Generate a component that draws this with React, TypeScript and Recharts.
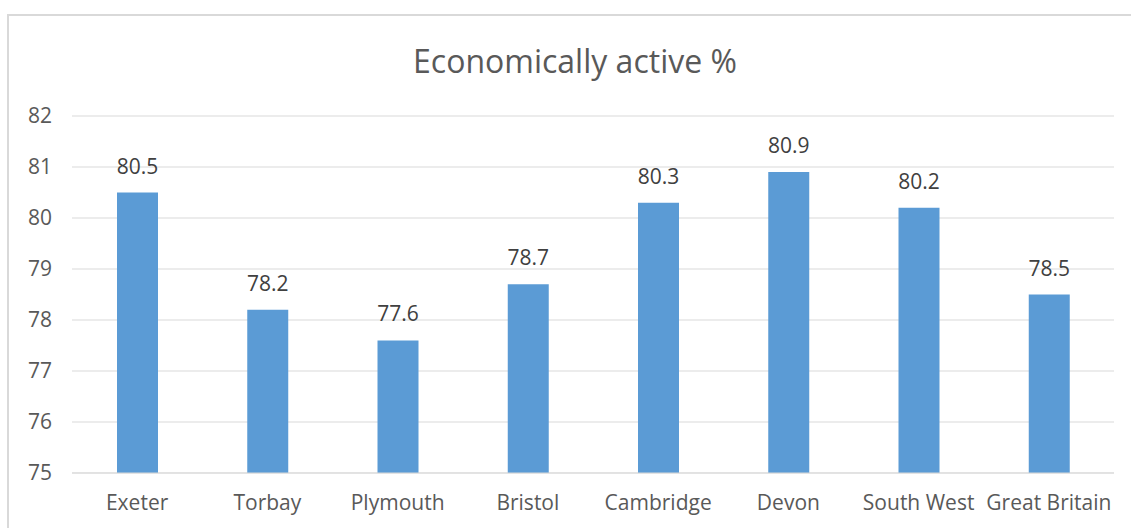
import { BarChart, Bar, XAxis, YAxis, CartesianGrid, LabelList } from 'recharts'

const areas = ['Exeter', 'Torbay', 'Plymouth', 'Bristol', 'Cambridge', 'Devon', 'South West', 'Great Britain']
const activePct = [80.5, 78.2, 77.6, 78.7, 80.3, 80.9, 80.2, 78.5]
const yTicks = [75, 76, 77, 78, 79, 80, 81, 82]

const chartData = areas.map((name, i) => ({ name, value: activePct[i] }))

const font = '"Open Sans", Lato, sans-serif'

export default function App() {
  return (
    <div style={{ position: 'absolute', left: 0, top: 0, width: 1131, height: 528, background: '#fff', fontFamily: font }}>
      <div
        style={{
          position: 'absolute',
          left: 7,
          top: 14,
          width: 1124,
          height: 514,
          borderTop: '2px solid #d9d9d9',
          borderLeft: '2px solid #d9d9d9',
          boxSizing: 'border-box',
        }}
      />
      <div
        style={{
          position: 'absolute',
          left: 0,
          top: 41,
          width: 1150,
          textAlign: 'center',
          fontSize: 32,
          lineHeight: '40px',
          color: '#595959',
        }}
      >
        Economically active %
      </div>
      <div style={{ position: 'absolute', left: 0, top: 0 }}>
        <BarChart
          width={1131}
          height={528}
          data={chartData}
          margin={{ top: 116, right: 17, left: 0, bottom: 25 }}
          barCategoryGap={0}
        >
          <CartesianGrid stroke="#d9d9d9" vertical={false} />
          <XAxis
            dataKey="name"
            tickLine={false}
            axisLine={{ stroke: '#d9d9d9' }}
            tick={{ fontSize: 21, fill: '#595959', fontFamily: font }}
            tickMargin={16}
            interval={0}
          />
          <YAxis
            domain={[75, 82]}
            ticks={yTicks}
            width={72}
            tickLine={false}
            axisLine={false}
            tick={{ fontSize: 21, fill: '#595959', fontFamily: font }}
            tickMargin={14}
          />
          <Bar dataKey="value" fill="#5b9bd5" barSize={41} isAnimationActive={false}>
            <LabelList dataKey="value" position="top" offset={19} fill="#404040" fontSize={21} fontFamily={font} />
          </Bar>
        </BarChart>
      </div>
    </div>
  )
}
